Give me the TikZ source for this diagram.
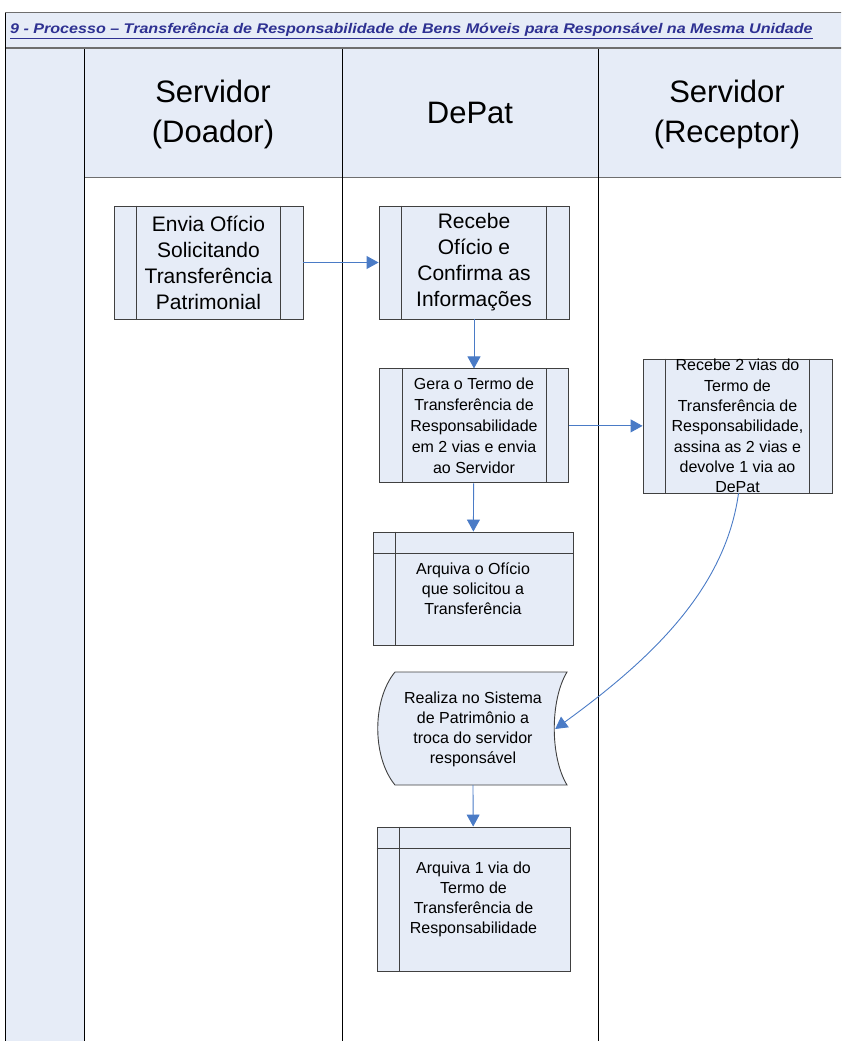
\documentclass[tikz,border=0pt]{standalone}
\usepackage{xcolor}
\usepackage{graphicx}
\usepackage{fontspec}
\setmainfont{Liberation Sans}
\usepackage{tikz}
\usetikzlibrary{arrows.meta}
\usetikzlibrary{calc,positioning}

\definecolor{lanefill}{HTML}{E6ECF7}
\definecolor{boxline}{HTML}{404040}
\definecolor{frameline}{HTML}{6E6E6E}
\definecolor{flowblue}{HTML}{4A7BC6}
\definecolor{titleblue}{HTML}{2E3192}

\tikzset{
    procbox/.style={draw=boxline, fill=lanefill, line width=0.9pt, align=center,
        inner sep=0pt, font=\fontsize{16}{21}\selectfont},
    storebox/.style={draw=boxline, fill=lanefill, line width=0.9pt, inner sep=0pt},
    boxtext/.style={align=center, inner sep=0pt, font=\fontsize{16}{20}\selectfont},
    lanehead/.style={align=center, font=\fontsize{31}{40}\selectfont},
    flow/.style={draw=flowblue, line width=0.9pt, -{Triangle[length=12pt,width=13pt]}},
}

\begin{document}
\begin{tikzpicture}[x=1pt, y=-1pt]

    \useasboundingbox (0,0) rectangle (841,1041);
    \clip (0,0) rectangle (841,1041);

    % Moldura
    \fill[lanefill] (5,13) rectangle (860,47);
    \fill[lanefill] (5,49) rectangle (84,1050);
    \fill[lanefill] (84,49) rectangle (860,177);
    \draw[frameline, line width=1pt] (5,13) -- (860,13);
    \draw[frameline, line width=2.5pt] (5,48) -- (860,48);
    \draw[frameline, line width=1pt] (84,177) -- (860,177);
    \draw[black, line width=1pt] (5,13) -- (5,1050);

    % Raias
    \foreach \x in {84,342,598} {
        \draw[black, line width=1pt] (\x,49) -- (\x,1050);
    }

    \node[anchor=west, text=titleblue, inner sep=0pt,
        font=\fontsize{14}{16}\selectfont\bfseries\itshape] (titulo) at (10,31)
        {\scalebox{1.149}[1]{\underline{9 - Processo – Transferência de Responsabilidade de Bens Móveis para Responsável na Mesma Unidade}}};

    \node[lanehead] (doador) at (213,114) {Servidor\\(Doador)};
    \node[lanehead] (depat) at (470,113) {DePat};
    \node[lanehead] (receptor) at (727,114) {Servidor\\(Receptor)};

    % Processos
    \node[procbox, minimum width=189pt, minimum height=113pt,
        font=\fontsize{21}{26}\selectfont] (envia) at (208.5,262.5)
        {Envia Ofício\\Solicitando\\Transferência\\Patrimonial};
    \node[procbox, minimum width=190pt, minimum height=113pt,
        font=\fontsize{21}{26}\selectfont] (recebe) at (474,262.5)
        {Recebe\\Ofício e\\Confirma as\\Informações};
    \node[procbox, minimum width=189pt, minimum height=114pt,
        below=49pt of recebe] (gera)
        {Gera o Termo de\\Transferência de\\Responsabilidade\\em 2 vias e envia\\ao Servidor};
    \node[procbox, minimum width=189pt, minimum height=134pt,
        font=\fontsize{16}{20.3}\selectfont] (assina) at (737.5,426)
        {Recebe 2 vias do\\Termo de\\Transferência de\\Responsabilidade,\\assina as 2 vias e\\devolve 1 via ao\\DePat};

    \foreach \n in {envia,recebe,gera,assina} {
        \draw[boxline, line width=0.9pt] ([xshift=23pt]\n.north west) -- ([xshift=23pt]\n.south west);
        \draw[boxline, line width=0.9pt] ([xshift=-23pt]\n.north east) -- ([xshift=-23pt]\n.south east);
    }

    % Arquivos
    \node[storebox, minimum width=200pt, minimum height=113pt] (arqoficio) at (473,588.5) {};
    \node[storebox, minimum width=193pt, minimum height=144pt] (arqtermo) at (473.5,899) {};
    \foreach \n in {arqoficio,arqtermo} {
        \draw[boxline, line width=0.9pt] ([xshift=23pt]\n.north west) -- ([xshift=23pt]\n.south west);
        \draw[boxline, line width=0.9pt] ([yshift=-22pt]\n.north west) -- ([yshift=-22pt]\n.north east);
    }
    \node[boxtext] (txtoficio) at (473,589) {Arquiva o Ofício\\que solicitou a\\Transferência};
    \node[boxtext] (txttermo) at (473.5,899) {Arquiva 1 via do\\Termo de\\Transferência de\\Responsabilidade};

    % Dados armazenados
    \draw[boxline, fill=lanefill, line width=0.9pt]
        (395,672) -- (567,672) .. controls (550,700) and (550,757) .. (567,785)
        -- (395,785) .. controls (372,757) and (372,700) .. (395,672);
    \node[boxtext, minimum width=164pt] (realiza) at (473,729)
        {Realiza no Sistema\\de Patrimônio a\\troca do servidor\\responsável};

    % Fluxo
    \draw[flow] (envia) -- (recebe);
    \draw[flow] (recebe) -- (gera);
    \draw[flow] (gera) -- (assina.west |- gera.east);
    \draw[flow] (gera) -- (arqoficio);
    \draw[flow] ([xshift=1pt]assina.south) .. controls (725,590) and (650,660) .. (realiza.east);
    \draw[flow] (realiza.south |- 0,785) -- (arqtermo);

\end{tikzpicture}
\end{document}
